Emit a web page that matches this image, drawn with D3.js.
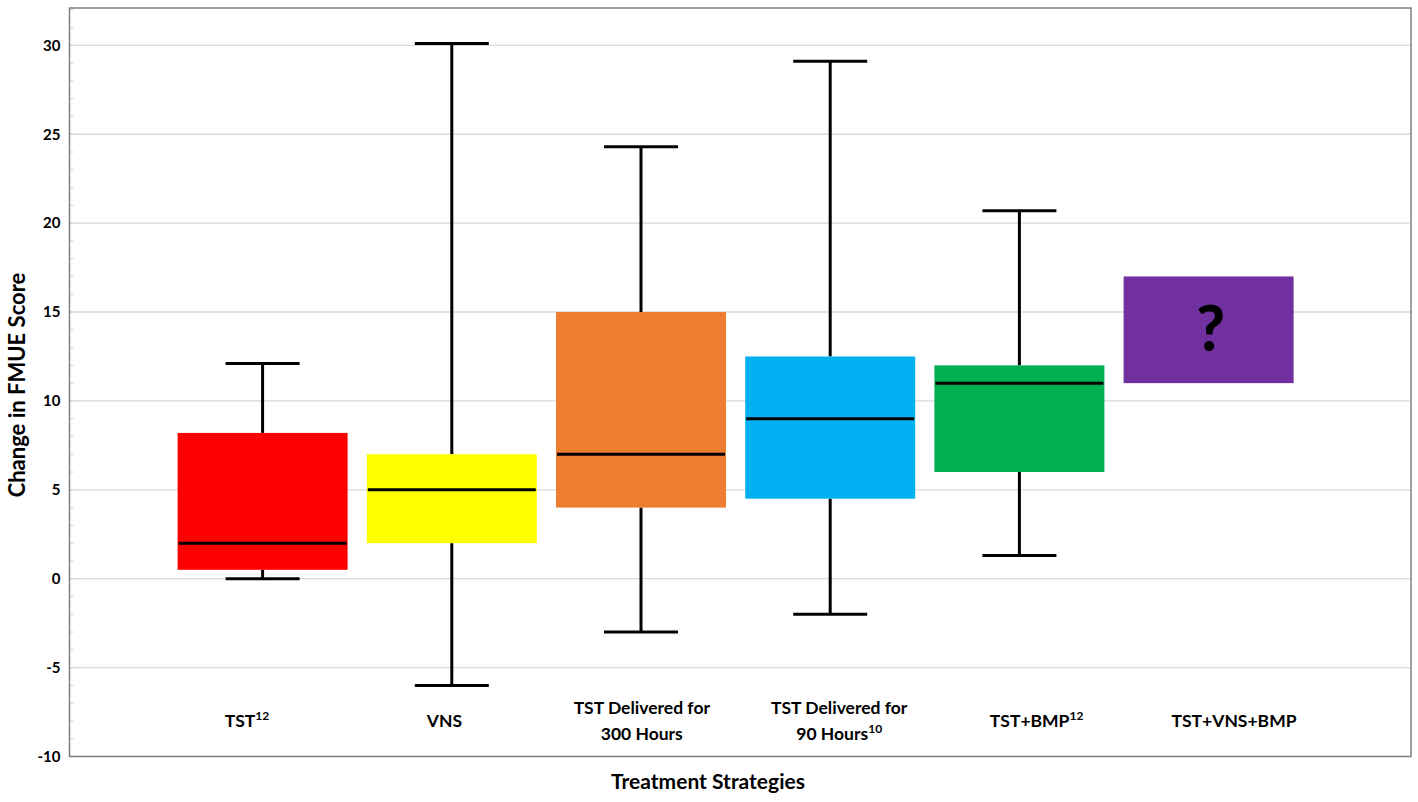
<!DOCTYPE html>
<html>
<head>
<meta charset="utf-8">
<script src="https://cdn.jsdelivr.net/npm/d3@7"></script>
<style>
  body { margin: 0; background: #fff; }
  text { font-family: Lato, "Open Sans", sans-serif; font-weight: bold; fill: #000; }
</style>
</head>
<body>
<svg id="chart" width="1418" height="802"></svg>
<script>
// treatment groups, left to right
var categories = ['TST', 'VNS', 'TST Delivered for|300 Hours', 'TST Delivered for|90 Hours', 'TST+BMP', 'TST+VNS+BMP'];
var superscripts = ['12', '', '', '10', '12', ''];
var colors = ['#ff0000', '#ffff00', '#ed7d31', '#00b0f0', '#00b050', '#7030a0'];

// box plot values (null = unknown)
var whiskerLow = [0, -6, -3, -2, 1.3, null];
var q1Values = [0.5, 2, 4, 4.5, 6, 11];
var medians = [2, 5, 7, 9, 11, null];
var q3Values = [8.2, 7, 15, 12.5, 12, 17];
var whiskerHigh = [12.1, 30.1, 24.3, 29.1, 20.7, null];

var yTicks = [-10, -5, 0, 5, 10, 15, 20, 25, 30];

var svg = d3.select('#chart');

var frame = { left: 69.5, right: 1411, top: 8, bottom: 756.5 };

var y = d3.scaleLinear().domain([-10, 32.1]).range([frame.bottom, frame.top]);
// box centres sit on integer slots 1..6
var x = d3.scaleLinear().domain([0, 7]).range([73.4, 1397.8]);
// category labels are spread a bit wider than the boxes in the original
var xLabel = d3.scaleLinear().domain([0, 5]).range([247, 1234]);

var boxWidth = 170;
var capWidth = 74;

// gridlines
svg.append('g')
  .selectAll('line')
  .data(yTicks.filter(function(d) { return d > -10; }))
  .enter().append('line')
  .attr('x1', frame.left).attr('x2', frame.right)
  .attr('y1', function(d) { return y(d); })
  .attr('y2', function(d) { return y(d); })
  .attr('stroke', '#d9d9d9')
  .attr('stroke-width', 1.3);

// minor ticks, one per unit, inside the left edge
svg.append('g')
  .selectAll('line')
  .data(d3.range(-10, 33))
  .enter().append('line')
  .attr('x1', frame.left).attr('x2', frame.left + 4)
  .attr('y1', function(d) { return y(d); })
  .attr('y2', function(d) { return y(d); })
  .attr('stroke', '#d0d0d0')
  .attr('stroke-width', 1);

// y axis labels via d3 axis, line removed
var yAxis = svg.append('g')
  .attr('transform', 'translate(' + frame.left + ',0)')
  .call(d3.axisLeft(y).tickValues(yTicks).tickSize(0).tickPadding(9)
    .tickFormat(function(d) { return String(d); }));
yAxis.select('.domain').remove();
yAxis.selectAll('text')
  .style('font-family', 'Lato, sans-serif')
  .style('font-weight', 'bold')
  .style('font-size', '15px')
  .attr('fill', '#000');

var groups = svg.append('g')
  .selectAll('g')
  .data(categories)
  .enter().append('g');

// whiskers
groups.each(function(d, i) {
  var g = d3.select(this);
  var cx = x(i + 1);
  if (whiskerHigh[i] !== null) {
    g.append('line')
      .attr('x1', cx).attr('x2', cx)
      .attr('y1', y(q3Values[i])).attr('y2', y(whiskerHigh[i]))
      .attr('stroke', '#000').attr('stroke-width', 3);
    g.append('line')
      .attr('x1', cx - capWidth / 2).attr('x2', cx + capWidth / 2)
      .attr('y1', y(whiskerHigh[i])).attr('y2', y(whiskerHigh[i]))
      .attr('stroke', '#000').attr('stroke-width', 3);
  }
  if (whiskerLow[i] !== null) {
    g.append('line')
      .attr('x1', cx).attr('x2', cx)
      .attr('y1', y(q1Values[i])).attr('y2', y(whiskerLow[i]))
      .attr('stroke', '#000').attr('stroke-width', 3);
    g.append('line')
      .attr('x1', cx - capWidth / 2).attr('x2', cx + capWidth / 2)
      .attr('y1', y(whiskerLow[i])).attr('y2', y(whiskerLow[i]))
      .attr('stroke', '#000').attr('stroke-width', 3);
  }
});

// boxes
groups.append('rect')
  .attr('x', function(d, i) { return x(i + 1) - boxWidth / 2; })
  .attr('y', function(d, i) { return y(q3Values[i]); })
  .attr('width', boxWidth)
  .attr('height', function(d, i) { return y(q1Values[i]) - y(q3Values[i]); })
  .attr('fill', function(d, i) { return colors[i]; });

// medians
groups.filter(function(d, i) { return medians[i] !== null; })
  .append('line')
  .attr('x1', function(d) { return x(categories.indexOf(d) + 1) - boxWidth / 2 + 1; })
  .attr('x2', function(d) { return x(categories.indexOf(d) + 1) + boxWidth / 2 - 1; })
  .attr('y1', function(d) { return y(medians[categories.indexOf(d)]); })
  .attr('y2', function(d) { return y(medians[categories.indexOf(d)]); })
  .attr('stroke', '#000').attr('stroke-width', 3);

// unknown outcome marker
var lastIdx = categories.length - 1;
svg.append('text')
  .attr('x', x(lastIdx + 1) + 2)
  .attr('y', y((q1Values[lastIdx] + q3Values[lastIdx]) / 2) + 21)
  .attr('text-anchor', 'middle')
  .style('font-size', '62px')
  .style('font-weight', '900')
  .text('?');

// frame
svg.append('rect')
  .attr('x', frame.left).attr('y', frame.top)
  .attr('width', frame.right - frame.left)
  .attr('height', frame.bottom - frame.top)
  .attr('fill', 'none')
  .attr('stroke', '#7f7f7f')
  .attr('stroke-width', 1.5);

// category labels, split on '|', superscript on last line
var labels = svg.append('g')
  .selectAll('text')
  .data(categories)
  .enter().append('text')
  .attr('text-anchor', 'middle')
  .style('font-size', '17.5px')
  .attr('transform', function(d, i) {
    var lines = d.split('|').length;
    var baseY = lines > 1 ? 714 : 727;
    return 'translate(' + xLabel(i) + ',' + baseY + ')';
  });

labels.each(function(d, i) {
  var t = d3.select(this);
  var lines = d.split('|');
  lines.forEach(function(line, j) {
    t.append('tspan')
      .attr('x', 0)
      .attr('dy', j === 0 ? 0 : 26)
      .text(line);
    if (j === lines.length - 1 && superscripts[i]) {
      t.append('tspan')
        .attr('dy', -7)
        .style('font-size', '12px')
        .text(superscripts[i]);
    }
  });
});

// axis titles
svg.append('text')
  .attr('x', 708)
  .attr('y', 789)
  .attr('text-anchor', 'middle')
  .style('font-size', '21px')
  .text('Treatment Strategies');

svg.append('text')
  .attr('transform', 'translate(25,385) rotate(-90)')
  .attr('text-anchor', 'middle')
  .style('font-size', '22px')
  .text('Change in FMUE Score');
</script>
</body>
</html>
